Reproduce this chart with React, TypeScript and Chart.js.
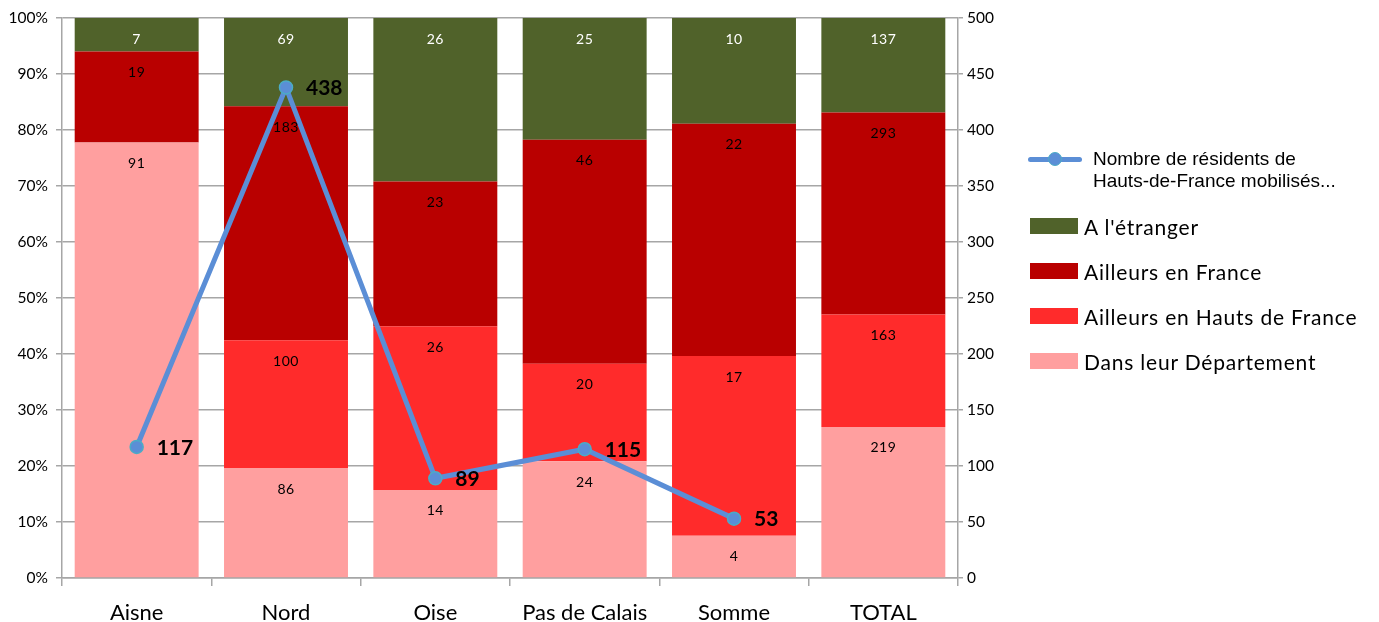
import React, { useEffect, useRef } from "react";
import { Chart, registerables } from "chart.js";

Chart.register(...registerables);

const categories = ["Aisne", "Nord", "Oise", "Pas de Calais", "Somme", "TOTAL"];
const dansDepartement = [91, 86, 14, 24, 4, 219];
const ailleursHdF = [0, 100, 26, 20, 17, 163];
const ailleursFrance = [19, 183, 23, 46, 22, 293];
const etranger = [7, 69, 26, 25, 10, 137];
const residents: (number | null)[] = [117, 438, 89, 115, 53, null];
const leftTicks = [0, 10, 20, 30, 40, 50, 60, 70, 80, 90, 100];
const rightTicks = [0, 50, 100, 150, 200, 250, 300, 350, 400, 450, 500];

const seriesNames = {
  line: ["Nombre de résidents de", "Hauts-de-France mobilisés..."],
  etranger: "A l'étranger",
  france: "Ailleurs en France",
  hdf: "Ailleurs en Hauts de France",
  dep: "Dans leur Département",
};

const colors = {
  dep: "#FF9F9F",
  hdf: "#FF2B2B",
  france: "#B90000",
  etranger: "#50622A",
  line: "#5B8ED6",
  pointBorder: "#4BACC6",
  grid: "#A6A6A6",
};

const totals = categories.map(
  (_, i) => dansDepartement[i] + ailleursHdF[i] + ailleursFrance[i] + etranger[i]
);
const pct = (arr: number[]) => arr.map((v, i) => (v / totals[i]) * 100);

const FONT = "Lato, 'Open Sans', sans-serif";

const labelPlugin = {
  id: "customLabels",
  afterDatasetsDraw(chart: any) {
    const ctx = chart.ctx;
    ctx.save();
    chart.data.datasets.forEach((ds: any, di: number) => {
      const meta = chart.getDatasetMeta(di);
      if (ds.type === "line") {
        ctx.font = `bold 21px ${FONT}`;
        ctx.fillStyle = "#000";
        ctx.textAlign = "left";
        ctx.textBaseline = "middle";
        meta.data.forEach((el: any, i: number) => {
          const v = ds.data[i];
          if (v == null) return;
          ctx.fillText(String(v), el.x + 20, el.y + 1);
        });
      } else {
        ctx.font = `14px ${FONT}`;
        try {
          (ctx as any).letterSpacing = "0.5px";
        } catch (e) {}
        ctx.fillStyle = ds.labelColor;
        ctx.textAlign = "center";
        ctx.textBaseline = "middle";
        meta.data.forEach((el: any, i: number) => {
          const raw = ds.raw[i];
          if (!raw) return;
          ctx.fillText(String(raw), el.x, el.y + 21);
        });
        try {
          (ctx as any).letterSpacing = "0px";
        } catch (e) {}
      }
    });
    ctx.restore();
  },
};

export default function App() {
  const ref = useRef<HTMLCanvasElement>(null);
  useEffect(() => {
    document.body.style.margin = "0";
    if (!ref.current) return;
    const barCommon = {
      type: "bar" as const,
      yAxisID: "y",
      xAxisID: "x",
      barPercentage: 1,
      categoryPercentage: 0.83,
      borderWidth: 0,
      order: 2,
    };
    const chart = new Chart(ref.current, {
      data: {
        labels: categories,
        datasets: [
          {
            ...barCommon,
            label: seriesNames.dep,
            data: pct(dansDepartement),
            raw: dansDepartement,
            labelColor: "#000",
            backgroundColor: colors.dep,
          } as any,
          {
            ...barCommon,
            label: seriesNames.hdf,
            data: pct(ailleursHdF),
            raw: ailleursHdF,
            labelColor: "#000",
            backgroundColor: colors.hdf,
          } as any,
          {
            ...barCommon,
            label: seriesNames.france,
            data: pct(ailleursFrance),
            raw: ailleursFrance,
            labelColor: "#000",
            backgroundColor: colors.france,
          } as any,
          {
            ...barCommon,
            label: seriesNames.etranger,
            data: pct(etranger),
            raw: etranger,
            labelColor: "#fff",
            backgroundColor: colors.etranger,
          } as any,
          {
            type: "line",
            label: seriesNames.line.join(" "),
            data: residents,
            yAxisID: "y1",
            xAxisID: "x",
            borderColor: colors.line,
            borderWidth: 5,
            pointRadius: 6.5,
            pointBackgroundColor: colors.line,
            pointBorderColor: colors.pointBorder,
            pointBorderWidth: 1.5,
            spanGaps: false,
            order: 1,
          } as any,
        ],
      },
      options: {
        animation: false,
        responsive: false,
        layout: { padding: { top: 18, right: 371, left: 0, bottom: 0 } },
        plugins: {
          legend: { display: false },
          tooltip: { enabled: false },
        },
        scales: {
          x: {
            stacked: true,
            offset: true,
            grid: {
              display: true,
              drawOnChartArea: false,
              drawTicks: true,
              tickLength: 8,
              color: colors.grid,
              lineWidth: 1.5,
              offset: true,
            },
            border: { display: true, color: colors.grid, width: 1.5 },
            ticks: { color: "#000", font: { family: FONT, size: 22 }, padding: 14 },
            afterFit: (s: any) => {
              s.height = 44;
            },
          },
          y: {
            stacked: true,
            min: 0,
            max: 100,
            position: "left",
            afterBuildTicks: (s: any) => {
              s.ticks = leftTicks.map((v) => ({ value: v }));
            },
            grid: {
              color: colors.grid,
              lineWidth: 1.5,
              tickLength: 6,
            },
            border: { display: true, color: colors.grid, width: 1.5 },
            ticks: {
              color: "#000",
              font: { family: FONT, size: 15.5 },
              padding: 8,
              callback: (v: any) => `${v}%`,
            },
            afterFit: (s: any) => {
              s.width = 62;
            },
          },
          y1: {
            stacked: false,
            min: 0,
            max: 500,
            position: "right",
            afterBuildTicks: (s: any) => {
              s.ticks = rightTicks.map((v) => ({ value: v }));
            },
            grid: {
              drawOnChartArea: false,
              color: colors.grid,
              lineWidth: 1.5,
              tickLength: 5,
            },
            border: { display: true, color: colors.grid, width: 1.5 },
            ticks: {
              color: "#000",
              font: { family: FONT, size: 15.5 },
              padding: 4,
            },
            afterFit: (s: any) => {
              s.width = 50;
            },
          },
        },
      } as any,
      plugins: [labelPlugin],
    });
    return () => chart.destroy();
  }, []);

  const legendRow = (top: number, color: string, text: string) => (
    <div
      style={{
        position: "absolute",
        left: 1030,
        top,
        height: 20,
        display: "flex",
        alignItems: "center",
        fontFamily: FONT,
        fontSize: 21,
        letterSpacing: "0.8px",
        color: "#000",
        whiteSpace: "nowrap",
      }}
    >
      <div style={{ width: 48, height: 16, background: color, marginRight: 6 }} />
      <span>{text}</span>
    </div>
  );

  return (
    <div style={{ position: "relative", width: 1379, height: 622 }}>
      <canvas ref={ref} width={1379} height={622} style={{ display: "block" }} />
      <div
        style={{
          position: "absolute",
          left: 1028,
          top: 148,
          display: "flex",
          alignItems: "flex-start",
          fontFamily: "'Liberation Sans', Arial, sans-serif",
          fontSize: 19,
          lineHeight: "22px",
          color: "#000",
          whiteSpace: "nowrap",
        }}
      >
        <div style={{ position: "relative", width: 54, height: 22, marginRight: 11 }}>
          <div
            style={{
              position: "absolute",
              left: 0,
              top: 9,
              width: 54,
              height: 5,
              borderRadius: 2.5,
              background: colors.line,
            }}
          />
          <div
            style={{
              position: "absolute",
              left: 20,
              top: 4,
              width: 12,
              height: 12,
              borderRadius: "50%",
              background: colors.line,
              border: `1.5px solid ${colors.pointBorder}`,
            }}
          />
        </div>
        <div>
          <div>{seriesNames.line[0]}</div>
          <div>{seriesNames.line[1]}</div>
        </div>
      </div>
      {legendRow(216, colors.etranger, seriesNames.etranger)}
      {legendRow(261, colors.france, seriesNames.france)}
      {legendRow(306, colors.hdf, seriesNames.hdf)}
      {legendRow(351, colors.dep, seriesNames.dep)}
    </div>
  );
}
